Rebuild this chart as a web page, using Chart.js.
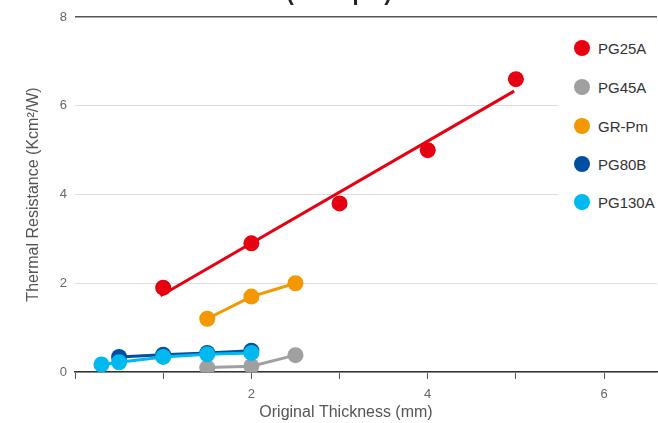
<!DOCTYPE html>
<html>
<head>
<meta charset="utf-8">
<script src="https://cdn.jsdelivr.net/npm/chart.js@4"></script>
<style>
  html, body { margin: 0; padding: 0; overflow: hidden; background: #fff; font-family: "Liberation Sans", Arial, sans-serif; }
  #wrap { position: relative; width: 658px; height: 423px; overflow: hidden; }
  #grafico { display: block; }
  #legend { position: absolute; left: 558px; top: 30px; width: 100px; height: 195px; background: #fff; }
  .item { position: absolute; left: 16px; height: 20px; display: flex; align-items: center; font-size: 15px; color: #333; }
  .dot { width: 16px; height: 16px; border-radius: 50%; margin-right: 8px; }
</style>
</head>
<body>
<div id="wrap">
  <canvas id="grafico"></canvas>
  <div id="legend"></div>
</div>
<script>
// valores
const seriesNames = ['PG25A', 'PG45A', 'GR-Pm', 'PG80B', 'PG130A'];
const seriesColors = ['#e60012', '#a0a0a0', '#f39800', '#004ea2', '#00b9ef'];

const pg25aX = [1, 2, 3, 4, 5];
const pg25aY = [1.9, 2.9, 3.8, 5.0, 6.6];
const pg25aTrendX = [0.97, 4.98];
const pg25aTrendY = [1.72, 6.33];

const pg45aX = [1.5, 2, 2.5];
const pg45aY = [0.1, 0.13, 0.38];

const grPmX = [1.5, 2, 2.5];
const grPmY = [1.2, 1.7, 2.0];

const pg80bX = [0.5, 1, 1.5, 2];
const pg80bY = [0.34, 0.39, 0.43, 0.48];

const pg130aX = [0.3, 0.5, 1, 1.5, 2];
const pg130aY = [0.17, 0.22, 0.34, 0.4, 0.43];

const xTicks = [0, 1, 2, 3, 4, 5, 6];
const xLabels = ['', '', '2', '', '4', '', '6'];
const yTicks = [0, 2, 4, 6, 8];

const pares = (xs, ys) => xs.map((x, i) => ({ x: x, y: ys[i] }));

function serie(nome, cor, xs, ys, comLinha, ordem) {
  return {
    label: nome,
    data: pares(xs, ys),
    showLine: comLinha,
    borderColor: cor,
    backgroundColor: cor,
    borderWidth: 3,
    pointRadius: 8,
    pointHoverRadius: 8,
    pointBorderWidth: 0,
    order: ordem
  };
}

const datasets = [
  serie('PG25A', seriesColors[0], pg25aX, pg25aY, false, 5),
  Object.assign(serie('PG25A fit', seriesColors[0], pg25aTrendX, pg25aTrendY, true, 0), { pointRadius: 0 }),
  serie('PG45A', seriesColors[1], pg45aX, pg45aY, true, 4),
  serie('GR-Pm', seriesColors[2], grPmX, grPmY, true, 3),
  serie('PG80B', seriesColors[3], pg80bX, pg80bY, true, 2),
  serie('PG130A', seriesColors[4], pg130aX, pg130aY, true, 1)
];

// textos extras: titulo cortado no topo e titulo do eixo x
const textos = {
  id: 'textos',
  afterDraw(chart) {
    const ctx = chart.ctx;
    ctx.save();
    ctx.fillStyle = '#222';
    ctx.font = 'bold 22px "Liberation Sans", Arial, sans-serif';
    ctx.textAlign = 'center';
    ctx.textBaseline = 'alphabetic';
    ctx.fillText('(Example)', 339, 0);
    ctx.fillStyle = '#555';
    ctx.font = '16px "Liberation Sans", Arial, sans-serif';
    ctx.textBaseline = 'middle';
    ctx.fillText('Original Thickness (mm)', 346, 413);
    ctx.restore();
  }
};

new Chart(document.getElementById('grafico'), {
  type: 'scatter',
  data: { datasets },
  plugins: [textos],
  options: {
    responsive: true,
    maintainAspectRatio: false,
    animation: false,
    layout: { autoPadding: false, padding: { top: 17, right: 1, left: 0, bottom: 0 } },
    plugins: {
      legend: { display: false },
      tooltip: { enabled: false }
    },
    scales: {
      x: {
        type: 'linear',
        min: 0,
        max: 6.6,
        afterBuildTicks: scale => { scale.ticks = xTicks.map(v => ({ value: v })); },
        afterFit: scale => {
          scale.height = 51;
          scale.paddingLeft = 0;
          scale.paddingRight = 0;
        },
        border: { color: '#333', width: 1.5 },
        grid: { drawOnChartArea: false, drawTicks: true, tickLength: 7, color: '#555' },
        ticks: {
          padding: 8,
          color: '#666',
          font: { size: 13, family: '"Liberation Sans", Arial, sans-serif' },
          callback: (v) => xLabels[xTicks.indexOf(v)] ?? ''
        }
      },
      y: {
        min: 0,
        max: 8,
        afterBuildTicks: scale => { scale.ticks = yTicks.map(v => ({ value: v })); },
        afterFit: scale => { scale.width = 75; },
        border: { display: false },
        grid: {
          drawTicks: false,
          color: c => c.tick && c.tick.value === 8 ? '#555' : '#ddd',
          lineWidth: c => c.tick && c.tick.value === 8 ? 1.5 : 1
        },
        ticks: {
          padding: 8,
          color: '#666',
          font: { size: 13, family: '"Liberation Sans", Arial, sans-serif' }
        },
        title: {
          display: true,
          text: 'Thermal Resistance (Kcm²/W)',
          color: '#555',
          font: { size: 16, family: '"Liberation Sans", Arial, sans-serif' },
          padding: { top: 24, bottom: 0 }
        }
      }
    }
  }
});

// legenda em HTML
const legend = document.getElementById('legend');
const legendTops = [8, 47, 86, 124, 162];
seriesNames.forEach((nome, i) => {
  const item = document.createElement('div');
  item.className = 'item';
  item.style.top = legendTops[i] + 'px';
  const dot = document.createElement('span');
  dot.className = 'dot';
  dot.style.backgroundColor = seriesColors[i];
  item.appendChild(dot);
  item.appendChild(document.createTextNode(nome));
  legend.appendChild(item);
});
</script>
</body>
</html>
